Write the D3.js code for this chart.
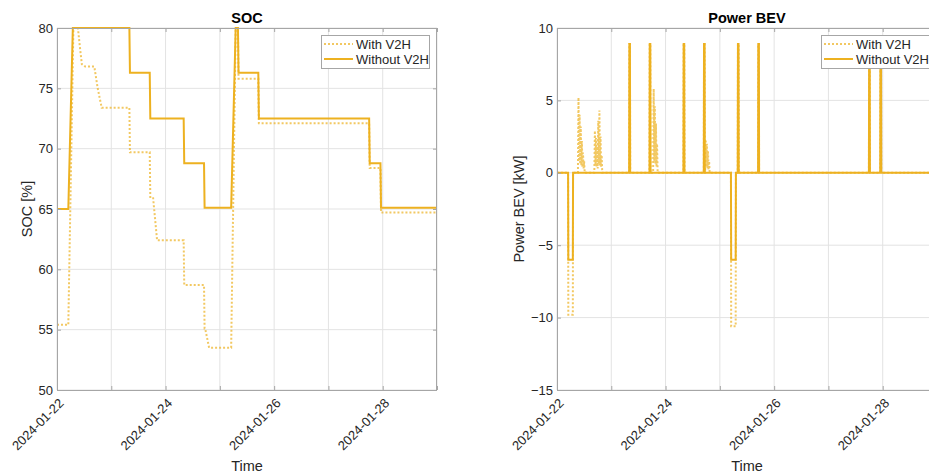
<!DOCTYPE html>
<html><head><meta charset="utf-8">
<script src="https://cdn.jsdelivr.net/npm/d3@7/dist/d3.min.js"></script>
<style>
html,body{margin:0;padding:0;background:#fff;}
svg{display:block;font-family:"Liberation Sans",Arial,sans-serif;}
</style></head><body>
<svg id="chart" width="929" height="475"></svg>
<script>
// ---- data (hours since 2024-01-22 00:00, value) ----
const socWithV2H = [[0,55.4],[5,55.4],[7.25,80],[9.25,80],[10.25,78.2],[11,77.0],[12.5,76.8],[16.5,76.8],[18,75.0],[19.75,73.4],
  [32,73.4],[32.25,69.7],[41,69.7],[41.25,65.9],[42.5,65.9],[44.25,62.4],[56,62.4],[56.25,58.7],[65,58.7],[65.25,55.1],
  [65.5,55.1],[67.25,53.5],[77,53.5],[79,80],[80,80],[80.25,75.8],[89,75.8],[89.25,72.1],[138,72.1],[138.25,68.4],
  [143,68.4],[143.25,64.7],[168,64.7]];
const socWithoutV2H = [[0,65],[5,65],[7,80],[32,80],[32.25,76.3],[41,76.3],[41.25,72.5],[56,72.5],[56.25,68.8],[65,68.8],
  [65.25,65.1],[77,65.1],[79,80],[80,80],[80.25,76.3],[89,76.3],[89.25,72.5],[138,72.5],[138.25,68.8],[143,68.8],
  [143.25,65.1],[168,65.1]];
const powerWithV2H = [[0,0],[4.9,0],[5,-9.8],[7,-9.8],[7.1,0],
  [9.25,0],[9.5,5.2],[9.75,0.8],[10,4.0],[10.25,0.6],[10.5,3.2],[10.75,0.5],[11,2.2],[11.25,0.4],[11.5,1.4],[11.75,0.3],[12,0.8],[12.25,0],
  [16.5,0],[16.75,2.9],[17,0.5],[17.25,2.4],[17.5,0.4],[17.75,1.8],[18,0.3],[18.25,3.6],[18.5,0.6],[18.75,4.3],[19,0.5],[19.25,2.5],[19.5,0.4],[19.75,1.2],[20,0],
  [31.9,0],[32,8.9],[32.25,8.9],[32.35,0],[40.9,0],[41,8.9],[41.25,8.9],[41.35,0],
  [42.5,0],[42.75,5.8],[43,0.8],[43.25,4.6],[43.5,0.6],[43.75,3.4],[44,0.4],[44.25,2.0],[44.5,0],
  [55.9,0],[56,8.9],[56.25,8.9],[56.35,0],[64.9,0],[65,8.9],[65.25,8.9],[65.35,0],
  [65.5,0],[65.75,2.3],[66,0.4],[66.25,2.0],[66.5,0.3],[66.75,1.5],[67,0.2],[67.25,0.8],[67.5,0],
  [76.9,0],[77,-10.6],[79,-10.6],[79.1,0],
  [79.9,0],[80,8.9],[80.25,8.9],[80.35,0],[88.9,0],[89,8.9],[89.25,8.9],[89.35,0],
  [137.9,0],[138,8.9],[138.25,8.9],[138.35,0],[142.9,0],[143,8.9],[143.25,8.9],[143.35,0],[168,0]];
const powerWithoutV2H = [[0,0],[4.9,0],[5,-6],[7,-6],[7.1,0],
  [31.9,0],[32,8.9],[32.25,8.9],[32.35,0],[40.9,0],[41,8.9],[41.25,8.9],[41.35,0],
  [55.9,0],[56,8.9],[56.25,8.9],[56.35,0],[64.9,0],[65,8.9],[65.25,8.9],[65.35,0],
  [76.9,0],[77,-6],[79,-6],[79.1,0],
  [79.9,0],[80,8.9],[80.25,8.9],[80.35,0],[88.9,0],[89,8.9],[89.25,8.9],[89.35,0],
  [137.9,0],[138,8.9],[138.25,8.9],[138.35,0],[142.9,0],[143,8.9],[143.25,8.9],[143.35,0],[168,0]];
const socTicks = [50,55,60,65,70,75,80];
const powerTicks = [-15,-10,-5,0,5,10];
const legendLabels = ["With V2H","Without V2H"];
const xLabel = "Time";
const titles = ["SOC","Power BEV"];
const yLabels = ["SOC [%]","Power BEV [kW]"];

// ---- drawing ----
const COLOR = "#EDB120";
const t0 = Date.UTC(2024,0,22);
const toDate = h => new Date(t0 + h*3600e3);
const svg = d3.select("#chart");
const fmt = d3.utcFormat("%Y-%m-%d");

function panel(opts){
  const {x0,x1,y0,y1,yDomain,yTicks,series,title,ylabel,id,ylabOff} = opts;
  const x = d3.scaleUtc().domain([toDate(0),toDate(168)]).range([x0,x1]);
  const y = d3.scaleLinear().domain(yDomain).range([y1,y0]);
  const g = svg.append("g");
  const dayTicks = d3.utcDay.range(toDate(0), toDate(168.01));
  // grid
  g.append("g").selectAll("line").data(dayTicks).join("line")
    .attr("x1",d=>x(d)).attr("x2",d=>x(d)).attr("y1",y0).attr("y2",y1)
    .attr("stroke","#e3e3e3").attr("stroke-width",1);
  g.append("g").selectAll("line").data(yTicks).join("line")
    .attr("x1",x0).attr("x2",x1).attr("y1",d=>y(d)).attr("y2",d=>y(d))
    .attr("stroke","#e3e3e3").attr("stroke-width",1);
  // clip
  svg.append("clipPath").attr("id",id).append("rect")
    .attr("x",x0).attr("y",y0-2).attr("width",x1-x0).attr("height",y1-y0+4);
  const line = d3.line().x(d=>x(toDate(d[0]))).y(d=>y(d[1]));
  const lg = g.append("g").attr("clip-path",`url(#${id})`);
  lg.append("path").datum(series[0]).attr("d",line).attr("fill","none")
    .attr("stroke",COLOR).attr("stroke-width",2).attr("stroke-dasharray","2,2").attr("opacity",0.7);
  lg.append("path").datum(series[1]).attr("d",line).attr("fill","none")
    .attr("stroke",COLOR).attr("stroke-width",2);
  // box
  g.append("rect").attr("x",x0+0.5).attr("y",y0+0.5).attr("width",x1-x0-1).attr("height",y1-y0)
    .attr("fill","none").attr("stroke","#a6a6a6").attr("stroke-width",1);
  // axes
  const xAx = d3.axisBottom(x).tickValues(dayTicks).tickSize(-4).tickSizeOuter(0)
    .tickFormat((d,i)=> i%2===0 ? fmt(d) : "");
  const xa = g.append("g").attr("transform",`translate(0,${y1})`).call(xAx);
  xa.select(".domain").remove();
  xa.selectAll(".tick line").attr("stroke","#a6a6a6");
  xa.selectAll(".tick text").attr("fill","#262626").attr("font-size",13)
    .attr("text-anchor","end").attr("dy",0).attr("y",0)
    .attr("transform","translate(7,14) rotate(-45)");
  const xTop = d3.axisTop(x).tickValues(dayTicks).tickSize(-4).tickFormat("");
  const xt = g.append("g").attr("transform",`translate(0,${y0})`).call(xTop);
  xt.select(".domain").remove(); xt.selectAll(".tick line").attr("stroke","#a6a6a6");
  const yAx = d3.axisLeft(y).tickValues(yTicks).tickSize(-4).tickPadding(6);
  const ya = g.append("g").attr("transform",`translate(${x0},0)`).call(yAx);
  ya.select(".domain").remove();
  ya.selectAll(".tick line").attr("stroke","#a6a6a6");
  ya.selectAll(".tick text").attr("fill","#262626").attr("font-size",13).attr("x",-4);
  const yR = d3.axisRight(y).tickValues(yTicks).tickSize(-4).tickFormat("");
  const yr = g.append("g").attr("transform",`translate(${x1},0)`).call(yR);
  yr.select(".domain").remove(); yr.selectAll(".tick line").attr("stroke","#a6a6a6");
  // labels
  g.append("text").attr("x",(x0+x1)/2).attr("y",23).attr("text-anchor","middle")
    .attr("font-weight","bold").attr("font-size",14.5).attr("fill","#000").text(title);
  g.append("text").attr("x",(x0+x1)/2).attr("y",471).attr("text-anchor","middle")
    .attr("font-size",14.5).attr("fill","#262626").text(xLabel);
  g.append("text").attr("transform",`translate(${x0-ylabOff},${(y0+y1)/2}) rotate(-90)`)
    .attr("text-anchor","middle").attr("font-size",14.5).attr("fill","#262626").text(ylabel);
  // legend
  const lx = x1-116, ly = 35;
  const leg = g.append("g");
  leg.append("rect").attr("x",lx+0.5).attr("y",ly+0.5).attr("width",108).attr("height",33)
    .attr("fill","#fff").attr("stroke","#a6a6a6");
  legendLabels.forEach((lab,i)=>{
    const yy = ly + 9 + i*15;
    leg.append("line").attr("x1",lx+3).attr("x2",lx+32).attr("y1",yy).attr("y2",yy)
      .attr("stroke",COLOR).attr("stroke-width",2)
      .attr("stroke-dasharray", i===0 ? "2,2" : null).attr("opacity", i===0 ? 0.7 : 1);
    leg.append("text").attr("x",lx+35).attr("y",yy+4.5).attr("font-size",13)
      .attr("fill","#262626").text(lab);
  });
}

panel({x0:57,x1:437,y0:28,y1:390,yDomain:[50,80],yTicks:socTicks,ylabOff:25,
  series:[socWithV2H,socWithoutV2H],title:titles[0],ylabel:yLabels[0],id:"clipA"});
panel({x0:557,x1:937,y0:28,y1:390,yDomain:[-15,10],yTicks:powerTicks,ylabOff:33,
  series:[powerWithV2H,powerWithoutV2H],title:titles[1],ylabel:yLabels[1],id:"clipB"});
</script>
</body></html>
